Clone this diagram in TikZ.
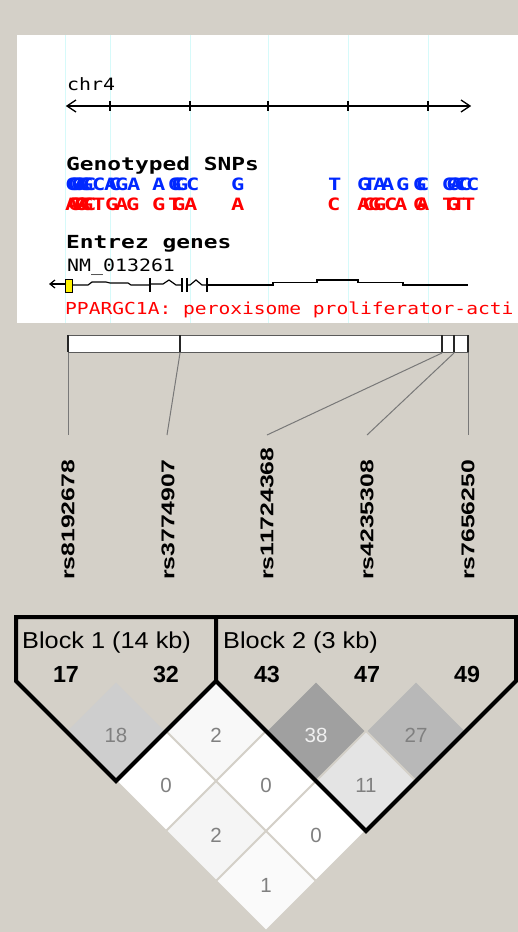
\documentclass[tikz,border=0pt]{standalone}
\usepackage{graphicx}
\usepackage{fontspec}
\setmainfont{Liberation Sans}
\newfontfamily\pixmono{DejaVu Sans Mono}[FakeStretch=1.17]
\newfontfamily\pixhead{DejaVu Sans Mono}[FakeStretch=1.27]
\newfontfamily\pixallele{DejaVu Sans Mono}[FakeStretch=1.3]
\usetikzlibrary{shapes.geometric}
\definecolor{bg}{RGB}{212,208,200}
\definecolor{guidecol}{RGB}{214,250,250}
\definecolor{snpblue}{RGB}{0,40,255}
\definecolor{snpred}{RGB}{255,0,0}
\definecolor{conncol}{RGB}{120,120,120}
\definecolor{dtxt}{RGB}{128,128,128}
\definecolor{dA}{RGB}{206,206,206}
\definecolor{dB}{RGB}{248,248,248}
\definecolor{dC}{RGB}{160,160,160}
\definecolor{dD}{RGB}{184,184,184}
\definecolor{dE}{RGB}{228,228,228}
\definecolor{dF}{RGB}{245,245,245}
\definecolor{dG}{RGB}{250,250,250}
\definecolor{dtxtw}{RGB}{240,240,240}
\tikzset{
  monotxt/.style={anchor=base west, inner sep=0pt, font=\pixmono\fontsize{17}{17}\selectfont},
  headtxt/.style={anchor=base west, inner sep=0pt, font=\pixhead\bfseries\fontsize{18}{18}\selectfont},
  bluealle/.style={anchor=base west, inner sep=0pt, text=snpblue, font=\pixallele\bfseries\fontsize{17}{17}\selectfont},
  redalle/.style={anchor=base west, inner sep=0pt, text=snpred, font=\pixallele\bfseries\fontsize{17}{17}\selectfont},
  guideline/.style={draw=guidecol, line width=1pt},
  axisline/.style={draw=black, line width=1.3pt},
  geneline/.style={draw=black, line width=1.2pt},
  conn/.style={draw=conncol, line width=1pt},
  rsname/.style={rotate=90, anchor=west, inner sep=0pt, font=\bfseries\fontsize{18.5}{18.5}\selectfont},
  blocklabel/.style={anchor=base west, inner sep=0pt, font=\fontsize{23}{23}\selectfont},
  blocknum/.style={anchor=base, inner sep=0pt, font=\bfseries\fontsize{23.3}{23.3}\selectfont},
  ldcell/.style={diamond, draw=none, minimum width=97pt, minimum height=97pt, inner sep=0pt},
  ldnum/.style={inner sep=0pt, font=\fontsize{20.5}{20.5}\selectfont},
  blockline/.style={draw=black, line width=4pt, line join=miter}
}
\begin{document}
\begin{tikzpicture}[x=1pt,y=-1pt]
\useasboundingbox (0,0) rectangle (518,932);
\fill[bg] (0,0) rectangle (518,932);
% top panel
\begin{scope}
\clip (17,35) rectangle (518,323);
\fill[white] (17,35) rectangle (518,323);
\foreach \gx in {65,110,190,268,348,428} \draw[guideline] (\gx,35) -- (\gx,323);
% chromosome axis
\node[monotxt] (chr) at (67,90) {chr4};
\draw[axisline] (67,106) -- (470,106);
\foreach \t in {110,190,268,348,428} \draw[axisline] (\t,101) -- (\t,111);
\draw[axisline] (76,100) -- (67,106) -- (76,112);
\draw[axisline] (461,100) -- (470,106) -- (461,112);
% genotyped SNPs
\node[headtxt] (gsnp) at (66,170) {Genotyped SNPs};
\foreach \px/\ch [count=\k] in {65/C,68/G,71/C,74/A,77/C,80/G,83/C,92/C,104/A,108/C,115/G,127/A,152/A,168/G,171/C,175/G,186/C,231/G,328/T,357/G,363/T,373/A,381/A,396/G,413/G,416/C,442/G,446/C,450/A,454/C,458/C,466/C}
  \node[bluealle] (ba\k) at (\px,190) {\ch};
\foreach \px/\ch [count=\k] in {65/A,68/G,71/T,74/G,77/A,80/G,83/C,92/T,105/G,115/A,126/G,152/G,168/T,172/G,184/A,231/A,327/C,357/A,362/C,368/G,373/G,384/C,394/A,413/G,416/A,442/T,446/G,452/T,462/T}
  \node[redalle] (ra\k) at (\px,210) {\ch};
% Entrez genes
\node[headtxt] (entrez) at (66,248) {Entrez genes};
\node[monotxt] (nm) at (67,271) {NM\_013261};
\draw[geneline] (50,284) -- (65,284);
\draw[geneline] (55,280) -- (50,284) -- (55,288);
\draw[geneline] (73,285) -- (88,285) -- (92,282) -- (106,282) -- (110,283) -- (128,283) -- (131,285) -- (150,285);
\draw[geneline] (150,284) -- (163,284) -- (169,280) -- (176,285) -- (182,285);
\draw[geneline] (187,285) -- (190,285) -- (196,280) -- (202,285) -- (207,285);
\draw[geneline] (207,285) -- (273,285) -- (273,282.5) -- (317,282.5) -- (317,280) -- (358,280) -- (358,282.5) -- (403,282.5) -- (403,285) -- (468,285);
\draw[black, line width=2.6pt] (150,278) -- (150,292);
\draw[black, line width=2.4pt] (182,278) -- (182,292);
\draw[black, line width=2.4pt] (187,278) -- (187,292);
\draw[black, line width=1.4pt] (207,278) -- (207,292);
\filldraw[fill=yellow, draw=black, line width=1pt] (65,279) rectangle (72,292);
\node[monotxt, text=snpred, font=\pixmono\fontsize{16.5}{16.5}\selectfont] (gene) at (65,314) {\scalebox{1.015}[1]{PPARGC1A: peroxisome proliferator-acti}};
\end{scope}
% marker bar
\filldraw[fill=white, draw={rgb,255:red,90;green,90;blue,90}, line width=1pt] (68,335) rectangle (468,352);
\foreach \t/\n in {68/1,180/2,442/3,454/4,468/5} {
  \draw[black!85, line width=2pt] (\t,335) -- (\t,352);
  \coordinate (tk\n) at (\t,353);
}
% marker labels
\node[rsname] (rs1) at (68,580) {\scalebox{1.34}[1]{rs8192678}};
\node[rsname] (rs2) at (168,580) {\scalebox{1.34}[1]{rs3774907}};
\node[rsname] (rs3) at (267,580) {\scalebox{1.34}[1]{rs11724368}};
\node[rsname] (rs4) at (367,580) {\scalebox{1.34}[1]{rs4235308}};
\node[rsname] (rs5) at (468,580) {\scalebox{1.34}[1]{rs7656250}};
\coordinate (ct1) at (68,435);
\coordinate (ct2) at (167,435);
\coordinate (ct3) at (267,435);
\coordinate (ct4) at (367,435);
\coordinate (ct5) at (468,435);
\foreach \n in {1,...,5} \draw[conn] (tk\n) -- (ct\n);
% LD plot
\foreach \i/\j/\fc/\tc/\num in {1/2/dA/dtxt/18, 2/3/dB/dtxt/2, 3/4/dC/dtxtw/38, 4/5/dD/dtxt/27, 1/3/white/dtxt/0, 2/4/white/dtxt/0, 3/5/dE/dtxt/11, 1/4/dF/dtxt/2, 2/5/white/dtxt/0, 1/5/dG/dtxt/1} {
  \pgfmathsetmacro\cx{66+50*(\i+\j-2)}
  \pgfmathsetmacro\cy{731+50*(\j-\i-1)}
  \node[ldcell, fill=\fc] (ld\i\j) at (\cx,\cy) {};
  \node[ldnum, text=\tc] (ln\i\j) at ([yshift=-4pt]ld\i\j.center) {\num};
}
% blocks
\draw[blockline] (16,617) -- (216,617) -- (216,681) -- (116,781) -- (16,681) -- cycle;
\draw[blockline] (216,617) -- (520,617);
\draw[blockline] (516,617) -- (516,681) -- (366,831) -- (216,681);
\node[blocklabel] (bl1) at (22,648) {\scalebox{1.1}[1]{Block 1 (14 kb)}};
\node[blocklabel] (bl2) at (223,648) {\scalebox{1.1}[1]{Block 2 (3 kb)}};
\foreach \mx/\lab [count=\k] in {66/17,166/32,267/43,367/47,467/49}
  \node[blocknum] (bn\k) at (\mx,682) {\lab};
\end{tikzpicture}
\end{document}
